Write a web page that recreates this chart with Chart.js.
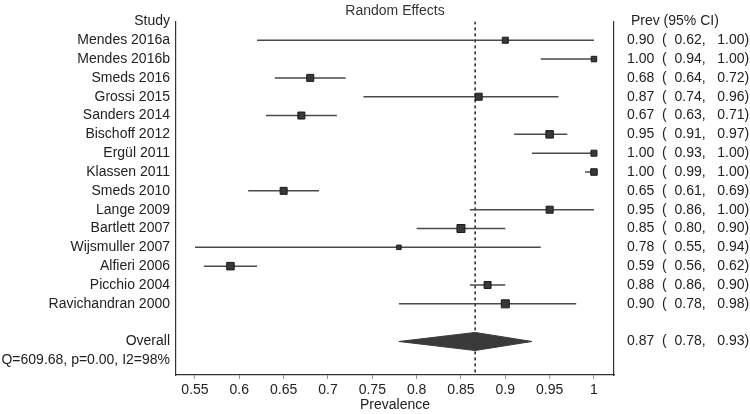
<!DOCTYPE html>
<html><head><meta charset="utf-8">
<script src="https://cdn.jsdelivr.net/npm/chart.js@4.4.1/dist/chart.umd.min.js"></script>
<style>html,body{margin:0;padding:0;background:#fff}canvas{display:block}</style>
</head><body>
<canvas id="c" width="750" height="414"></canvas>
<script>
// ---- data ----
const studies = ["Mendes 2016a","Mendes 2016b","Smeds 2016","Grossi 2015","Sanders 2014","Bischoff 2012","Ergül 2011","Klassen 2011","Smeds 2010","Lange 2009","Bartlett 2007","Wijsmuller 2007","Alfieri 2006","Picchio 2004","Ravichandran 2000"];
const prev   = [0.90,1.00,0.68,0.87,0.67,0.95,1.00,1.00,0.65,0.95,0.85,0.78,0.59,0.88,0.90];
const ciLow  = [0.62,0.94,0.64,0.74,0.63,0.91,0.93,0.99,0.61,0.86,0.80,0.55,0.56,0.86,0.78];
const ciHigh = [1.00,1.00,0.72,0.96,0.71,0.97,1.00,1.00,0.69,1.00,0.90,0.94,0.62,0.90,0.98];
const weights = [6,5.5,7,7,7,7.5,6,6.5,7,7,8,4.5,7.5,7,8];   // relative study weight (marker size)
const overallEst = 0.866, overallLow = 0.78, overallHigh = 0.93;
const heterogeneity = "Q=609.68, p=0.00, I2=98%";
const xTicks = [0.55,0.6,0.65,0.7,0.75,0.8,0.85,0.9,0.95,1];
const leftHeader = "Study", rightHeader = " Prev (95% CI)";

// ---- derived tables ----
const fmt = v => v.toFixed(2);
const ciText = (e,l,h) => fmt(e) + "  (  " + fmt(l) + ",   " + fmt(h) + ")";
const leftLabels = [leftHeader, ...studies, "", "Overall", heterogeneity];
const rightLabels = [rightHeader, ...prev.map((p,i)=>ciText(p,ciLow[i],ciHigh[i])), "", ciText(overallEst,overallLow,overallHigh), ""];
const rows = leftLabels.map((_,i)=>i);
const overallRow = 17;
const yMax = 18.78;

const ciData = [];
studies.forEach((s,i)=>{
  ciData.push({x:ciLow[i], y:i+1},{x:ciHigh[i], y:i+1},{x:ciHigh[i], y:NaN});
});
const pointData = prev.map((p,i)=>({x:p, y:i+1}));
const dh = 0.48;
const diamond = [
  {x:overallLow,y:overallRow},{x:overallEst,y:overallRow-dh},
  {x:overallHigh,y:overallRow},{x:overallEst,y:overallRow+dh},{x:overallLow,y:overallRow}
];
const refLine = [{x:overallEst,y:0},{x:overallEst,y:yMax}];

const FONT = "'Liberation Sans', Arial, sans-serif";
const TXT = '#222';

new Chart(document.getElementById('c'), {
  type: 'scatter',
  data: { datasets: [
    { data: refLine, showLine:true, borderColor:'#333', borderWidth:1.6, borderDash:[3,3], pointRadius:0, order:4 },
    { data: ciData, showLine:true, spanGaps:false, borderColor:'#4a4a4a', borderWidth:1.5, pointRadius:0, order:3 },
    { data: diamond, showLine:true, borderColor:'#3a3a3a', borderWidth:1, backgroundColor:'#3a3a3a', fill:'shape', pointRadius:0, order:2 },
    { data: pointData, pointStyle:'rect', backgroundColor:'#383838', borderColor:'#1a1a1a', borderWidth:1,
      pointRadius: ctx => weights[ctx.dataIndex] / (2*Math.SQRT1_2), order:1 }
  ]},
  options: {
    responsive:false, animation:false,
    layout:{ padding:0 },
    plugins:{
      legend:{display:false}, tooltip:{enabled:false},
      title:{ display:true, text:'Random Effects', fullSize:false, color:'#333',
        font:{family:FONT,size:14,weight:'normal'}, padding:{top:1,bottom:2} }
    },
    events: [],
    scales:{
      x:{ type:'linear', min:0.5286, max:1.0226,
        afterBuildTicks: s => { s.ticks = xTicks.map(v=>({value:v})); },
        ticks:{ callback: v => String(v), color:TXT, font:{family:FONT,size:14}, padding:3, maxRotation:0, autoSkip:false },
        grid:{ display:true, drawOnChartArea:false, drawTicks:true, tickLength:4, color:'#999' },
        border:{ display:true, color:'#333', width:1.2 },
        title:{ display:true, text:'Prevalence', color:TXT, font:{family:FONT,size:14}, padding:{top:0,bottom:0} },
        afterFit: s => { s.height = 39; }
      },
      y:{ type:'linear', position:'left', min:0, max:yMax, reverse:true,
        afterBuildTicks: s => { s.ticks = rows.map(v=>({value:v})); },
        ticks:{ callback: v => leftLabels[v] ?? '', color:TXT, font:{family:FONT,size:14}, padding:6, autoSkip:false },
        grid:{ display:false, drawTicks:false },
        border:{ display:true, color:'#333', width:1.2 },
        afterFit: s => { s.width = 176; }
      },
      y2:{ type:'linear', position:'right', min:0, max:yMax, reverse:true,
        afterBuildTicks: s => { s.ticks = rows.map(v=>({value:v})); },
        ticks:{ callback: v => rightLabels[v] ?? '', color:TXT, font:{family:FONT,size:14}, padding:13, autoSkip:false },
        grid:{ display:false, drawTicks:false },
        border:{ display:true, color:'#333', width:1.2 },
        afterFit: s => { s.width = 136; }
      }
    }
  }
});
</script>
</body></html>
